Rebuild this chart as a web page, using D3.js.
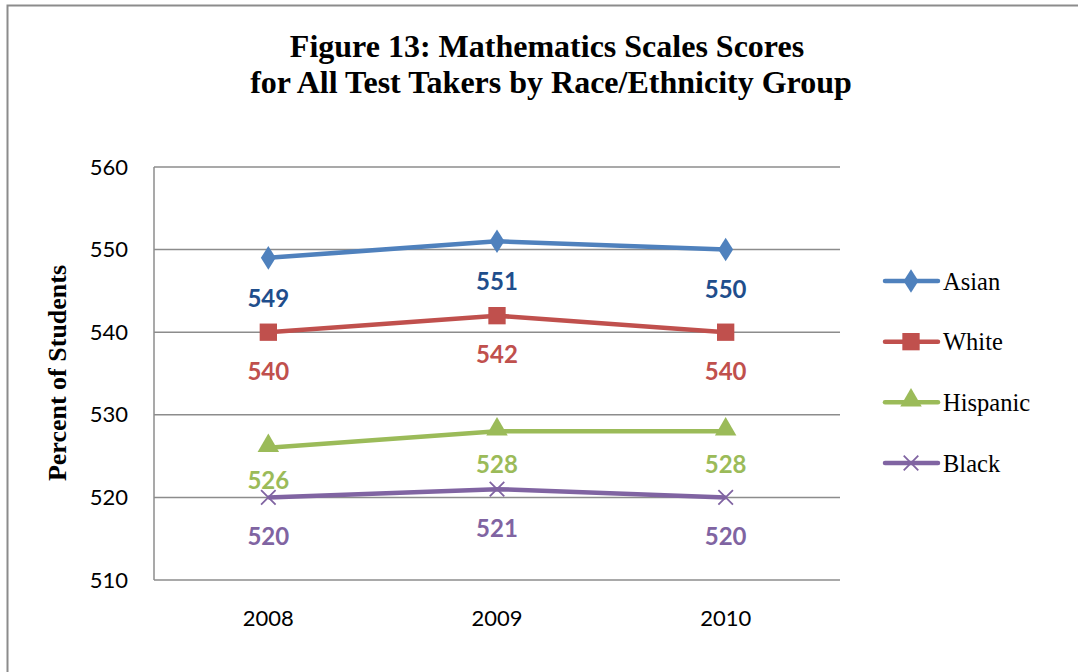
<!DOCTYPE html>
<html>
<head>
<meta charset="utf-8">
<script src="https://cdn.jsdelivr.net/npm/d3@7"></script>
<style>
  body { margin: 0; background: #fff; }
  svg { display: block; }
</style>
</head>
<body>
<div id="chart"></div>
<script>
// chart data
var years = ["2008", "2009", "2010"];
var seriesNames = ["Asian", "White", "Hispanic", "Black"];
var asian = [549, 551, 550];
var white = [540, 542, 540];
var hispanic = [526, 528, 528];
var black = [520, 521, 520];
var yTicks = [510, 520, 530, 540, 550, 560];

var width = 1078, height = 672;
var plotLeft = 154, plotRight = 840, plotTop = 167, plotBottom = 580;

var lineColors = {"Asian": "#4f81bd", "White": "#c0504d", "Hispanic": "#9bbb59", "Black": "#8064a2"};
var labelColors = {"Asian": "#1f4e8c", "White": "#c0504d", "Hispanic": "#9bbb59", "Black": "#8064a2"};
var labelOffset = {"Asian": 40, "White": 39, "Hispanic": 33, "Black": 39};

var allSeries = [asian, white, hispanic, black].map(function (vals, i) {
    return {name: seriesNames[i], values: vals};
});

var svg = d3.select("#chart").append("svg")
    .attr("width", width)
    .attr("height", height);

// outer chart border
svg.append("rect")
    .attr("x", 7.5).attr("y", 5.5)
    .attr("width", 1100).attr("height", 700)
    .attr("fill", "#fff")
    .attr("stroke", "#8c8c8c")
    .attr("stroke-width", 2);

var x = d3.scaleBand().domain(years).range([plotLeft, plotRight]);
var y = d3.scaleLinear().domain([510, 560]).range([plotBottom, plotTop]);

// gridlines
svg.append("g").selectAll("line")
    .data(yTicks)
    .enter().append("line")
    .attr("x1", plotLeft).attr("x2", plotRight)
    .attr("y1", function (d) { return y(d); })
    .attr("y2", function (d) { return y(d); })
    .attr("stroke", "#8c8c8c")
    .attr("stroke-width", 1.5);

svg.append("line")
    .attr("x1", plotLeft).attr("x2", plotLeft)
    .attr("y1", plotTop).attr("y2", plotBottom)
    .attr("stroke", "#8c8c8c")
    .attr("stroke-width", 1.5);

// y axis labels
var yAxis = svg.append("g")
    .attr("transform", "translate(" + plotLeft + ",0)")
    .call(d3.axisLeft(y).tickValues(yTicks).tickSize(0).tickPadding(26));
yAxis.select(".domain").remove();
yAxis.selectAll("text")
    .attr("font-family", "Lato, 'Open Sans', sans-serif")
    .attr("font-size", 22)
    .attr("fill", "#000");

// x axis labels
var xAxis = svg.append("g")
    .attr("transform", "translate(0," + plotBottom + ")")
    .call(d3.axisBottom(x).tickSize(0).tickPadding(30));
xAxis.select(".domain").remove();
xAxis.selectAll("text")
    .attr("font-family", "Lato, 'Open Sans', sans-serif")
    .attr("font-size", 22)
    .attr("fill", "#000");

function cx(i) { return x(years[i]) + x.bandwidth() / 2; }

var line = d3.line()
    .x(function (d, i) { return cx(i); })
    .y(function (d) { return y(d); });

var markerSymbols = {
    "Asian": d3.symbol().type(d3.symbolDiamond).size(160),
    "White": d3.symbol().type(d3.symbolSquare).size(300),
    "Hispanic": d3.symbol().type(d3.symbolTriangle).size(200),
    "Black": d3.symbol().type(d3.symbolX).size(140)
};

function drawMarker(g, name, px, py) {
    var m = g.append("path")
        .attr("d", markerSymbols[name]())
        .attr("transform", "translate(" + px + "," + py + ")" + (name === "Asian" ? " scale(1.1,1)" : ""));
    if (name === "Black") {
        m.attr("fill", "none").attr("stroke", lineColors[name]).attr("stroke-width", 1.8);
    } else {
        m.attr("fill", lineColors[name]);
    }
}

allSeries.forEach(function (s) {
    var g = svg.append("g");
    g.append("path")
        .datum(s.values)
        .attr("d", line)
        .attr("fill", "none")
        .attr("stroke", lineColors[s.name])
        .attr("stroke-width", 4.5)
        .attr("stroke-linejoin", "round");
    s.values.forEach(function (v, i) {
        drawMarker(g, s.name, cx(i), y(v) + (s.name === "Hispanic" ? -2 : 0));
        g.append("text")
            .attr("x", cx(i))
            .attr("y", y(v) + labelOffset[s.name])
            .attr("dy", "0.36em")
            .attr("text-anchor", "middle")
            .attr("font-family", "Lato, 'Open Sans', sans-serif")
            .attr("font-weight", "bold")
            .attr("font-size", 24)
            .attr("fill", labelColors[s.name])
            .text(v);
    });
});

// title
var title = svg.append("text")
    .attr("text-anchor", "middle")
    .attr("font-family", "'Liberation Serif', 'Times New Roman', serif")
    .attr("font-weight", "bold")
    .attr("font-size", 32)
    .attr("fill", "#000");
title.append("tspan").attr("x", 547).attr("y", 57).text("Figure 13: Mathematics Scales Scores");
title.append("tspan").attr("x", 551).attr("y", 93).text("for All Test Takers by Race/Ethnicity Group");

// y axis title
svg.append("text")
    .attr("transform", "translate(66,373) rotate(-90)")
    .attr("text-anchor", "middle")
    .attr("font-family", "'Liberation Serif', 'Times New Roman', serif")
    .attr("font-weight", "bold")
    .attr("font-size", 26)
    .attr("fill", "#000")
    .text("Percent of Students");

// legend
var legendY = d3.scalePoint().domain(seriesNames).range([281, 463]);
var legend = svg.append("g");
seriesNames.forEach(function (name) {
    var ly = legendY(name);
    legend.append("line")
        .attr("x1", 885).attr("x2", 938)
        .attr("y1", ly).attr("y2", ly)
        .attr("stroke", lineColors[name])
        .attr("stroke-width", 4.5)
        .attr("stroke-linecap", "round");
    drawMarker(legend, name, 911, ly + (name === "Hispanic" ? -2 : 0));
    legend.append("text")
        .attr("x", 943)
        .attr("y", ly)
        .attr("dy", "0.35em")
        .attr("font-family", "'Liberation Serif', 'Times New Roman', serif")
        .attr("font-size", 24.5)
        .attr("fill", "#000")
        .text(name);
});
</script>
</body>
</html>
